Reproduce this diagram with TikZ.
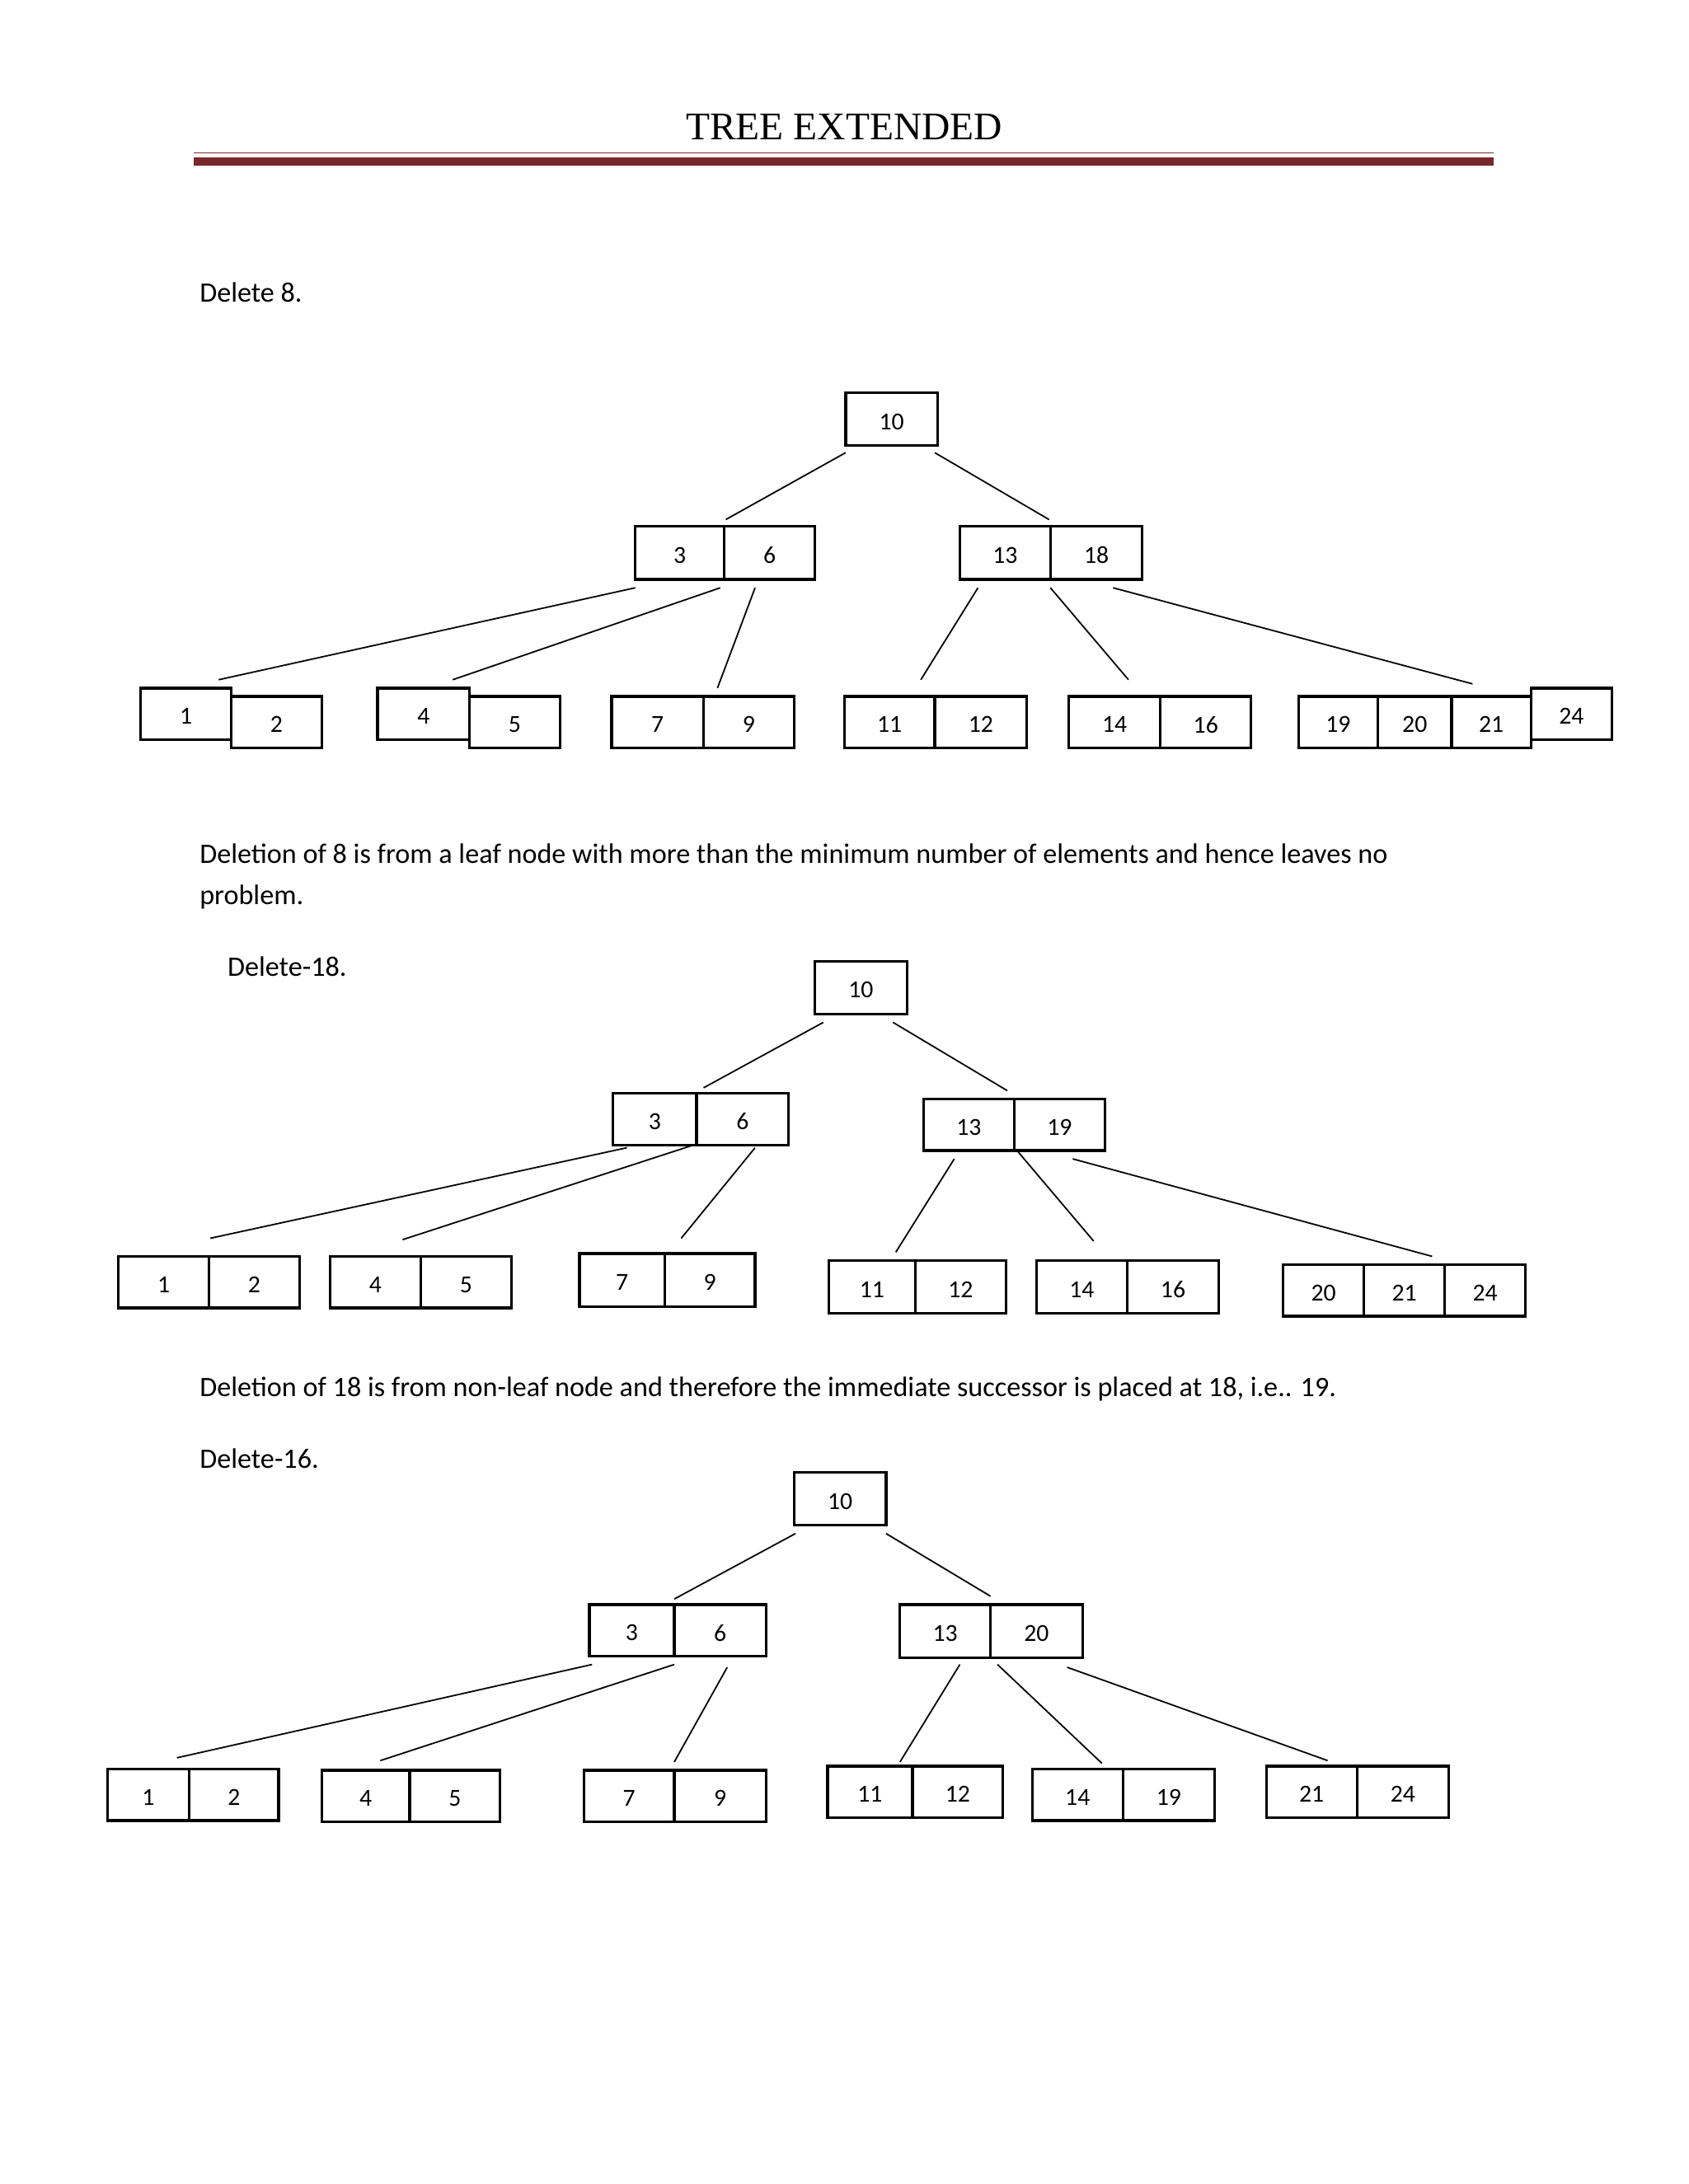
\documentclass[tikz,border=0pt]{standalone}
\usepackage{fontspec}
\setmainfont{Carlito}
\newfontfamily\titlefont{Liberation Serif}
\definecolor{rule}{RGB}{120,40,40}
\newcommand{\cellbox}[5]{\draw[cell] (#1,#3) rectangle (#2,#4) node[midway,yshift=-1pt]{#5};}
\begin{document}
\begin{tikzpicture}[x=0.02cm,y=-0.02cm,
    cell/.style={line width=1.1pt},
    edge/.style={line width=0.6pt},
    txt/.style={anchor=west,inner sep=0pt,font=\fontsize{11.5}{14}\selectfont}]
    \useasboundingbox[fill=white] (0,0) rectangle (1212,1568);

    % header
    \node[font=\titlefont\fontsize{16}{18}\selectfont] (title) at (606,91) {TREE EXTENDED};
    \draw[rule,line width=0.4pt] (139,110) -- (1072,110);
    \draw[rule,line width=3.2pt] (139,116) -- (1072,116);

    \node[txt] (d8) at (143,210) {Delete 8.};

    % tree 1
    \cellbox{607}{673}{282}{320}{10}
    \cellbox{456}{520}{378}{416}{3}
    \cellbox{520}{585}{378}{416}{6}
    \cellbox{689}{754}{378}{416}{13}
    \cellbox{754}{820}{378}{416}{18}
    \cellbox{101}{166}{494}{531}{1}
    \cellbox{166}{231}{500}{537}{2}
    \cellbox{271}{337}{494}{531}{4}
    \cellbox{337}{402}{500}{537}{5}
    \cellbox{439}{505}{500}{537}{7}
    \cellbox{505}{570}{500}{537}{9}
    \cellbox{606}{671}{500}{537}{11}
    \cellbox{671}{737}{500}{537}{12}
    \cellbox{767}{833}{500}{537}{14}
    \cellbox{833}{898}{500}{537}{16}
    \cellbox{932}{989}{500}{537}{19}
    \cellbox{989}{1042}{500}{537}{20}
    \cellbox{1042}{1099}{500}{537}{21}
    \cellbox{1099}{1157}{494}{531}{24}
    \foreach \a/\b/\c/\d in {607/325/521/373, 671/325/753/373, 456/422/157/488,
        517/422/325/488, 542/422/515/494, 702/422/661/488, 754/422/810/488, 799/422/1057/491}
      \draw[edge] (\a,\b) -- (\c,\d);

    \node[txt] (p1) at (143,613) {Deletion of 8 is from a leaf node with more than the minimum number of elements and hence leaves no};
    \node[txt] (p1b) at (143,644) {problem.};
    \node[txt] (d18) at (163,694) {Delete-18.};

    % tree 2
    \cellbox{585}{651}{690}{728}{10}
    \cellbox{440}{500}{785}{822}{3}
    \cellbox{500}{566}{785}{822}{6}
    \cellbox{663}{728}{789}{826}{13}
    \cellbox{728}{793}{789}{826}{19}
    \cellbox{85}{150}{902}{939}{1}
    \cellbox{150}{215}{902}{939}{2}
    \cellbox{237}{302}{902}{939}{4}
    \cellbox{302}{367}{902}{939}{5}
    \cellbox{416}{477}{900}{938}{7}
    \cellbox{477}{542}{900}{938}{9}
    \cellbox{595}{657}{905}{943}{11}
    \cellbox{657}{722}{905}{943}{12}
    \cellbox{744}{809}{905}{943}{14}
    \cellbox{809}{875}{905}{943}{16}
    \cellbox{921}{979}{908}{945}{20}
    \cellbox{979}{1037}{908}{945}{21}
    \cellbox{1037}{1095}{908}{945}{24}
    \foreach \a/\b/\c/\d in {591/734/505/781, 641/734/723/783, 450/824/151/889,
        498/822/289/890, 542/824/489/889, 685/832/643/899, 730/826/785/891, 770/832/1028/902}
      \draw[edge] (\a,\b) -- (\c,\d);

    \node[txt] (p2) at (143,997) {Deletion of 18 is from non-leaf node and therefore the immediate successor is placed at 18, i.e.. 19.};
    \node[txt] (d16) at (143,1047) {Delete-16.};

    % tree 3
    \cellbox{570}{636}{1057}{1095}{10}
    \cellbox{423}{484}{1152}{1189}{3}
    \cellbox{484}{550}{1152}{1189}{6}
    \cellbox{646}{711}{1152}{1190}{13}
    \cellbox{711}{777}{1152}{1190}{20}
    \cellbox{77}{136}{1270}{1307}{1}
    \cellbox{136}{200}{1270}{1307}{2}
    \cellbox{231}{294}{1271}{1308}{4}
    \cellbox{294}{359}{1271}{1308}{5}
    \cellbox{419}{484}{1271}{1308}{7}
    \cellbox{484}{550}{1271}{1308}{9}
    \cellbox{594}{655}{1268}{1305}{11}
    \cellbox{655}{720}{1268}{1305}{12}
    \cellbox{741}{806}{1270}{1307}{14}
    \cellbox{806}{872}{1270}{1307}{19}
    \cellbox{909}{974}{1268}{1305}{21}
    \cellbox{974}{1040}{1268}{1305}{24}
    \foreach \a/\b/\c/\d in {571/1101/484/1148, 636/1101/711/1146, 425/1195/127/1262,
        484/1195/273/1264, 522/1197/484/1265, 689/1195/646/1265, 716/1195/791/1266, 766/1197/953/1264}
      \draw[edge] (\a,\b) -- (\c,\d);
  \end{tikzpicture}
\end{document}
